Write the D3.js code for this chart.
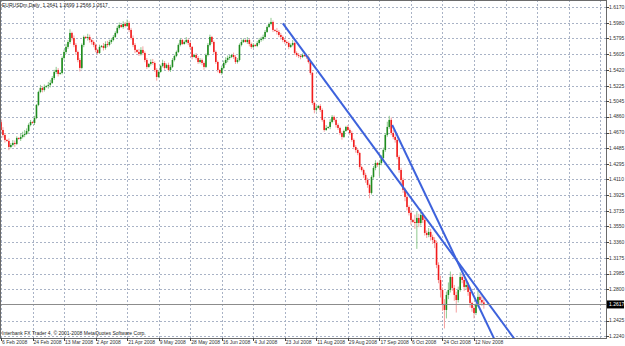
<!DOCTYPE html>
<html>
<head>
<meta charset="utf-8">
<script src="https://cdn.jsdelivr.net/npm/d3@7"></script>
<style>
body { margin: 0; background: #fff; }
svg { display: block; font-family: 'Liberation Sans', Arial, sans-serif; }
</style>
</head>
<body>
<div id="chart"></div>
<script>
'use strict';

var titleText = 'EURUSDm,Daily  1.2641 1.2699 1.2566 1.2617';
var copyrightText = 'Interbank FX Trader 4, \u00a9 2001-2008 MetaQuotes Software Corp.';

var dateLabels = ['6 Feb 2008', '24 Feb 2008', '13 Mar 2008', '2 Apr 2008', '21 Apr 2008', '9 May 2008',
    '28 May 2008', '16 Jun 2008', '4 Jul 2008', '23 Jul 2008', '11 Aug 2008', '29 Aug 2008',
    '17 Sep 2008', '6 Oct 2008', '24 Oct 2008', '12 Nov 2008'];

var priceTicks = [1.6170, 1.5980, 1.5795, 1.5605, 1.5420, 1.5225, 1.5045, 1.4860, 1.4670, 1.4485, 1.4295,
    1.4110, 1.3925, 1.3735, 1.3550, 1.3360, 1.3175, 1.2985, 1.2800, 1.2425, 1.2240];

var lastPrice = 1.2617;

var opens = [
    1.4795,1.4701,1.4641,1.4582,1.4570,1.4498,1.4522,1.4546,1.4534,1.4606,
    1.4594,1.4618,1.4641,1.4653,1.4689,1.4761,1.4797,1.4785,1.4844,1.5000,
    1.5155,1.5203,1.5179,1.5215,1.5227,1.5239,1.5263,1.5322,1.5394,1.5418,
    1.5370,1.5382,1.5561,1.5633,1.5693,1.5752,1.5860,1.5800,1.5717,1.5633,
    1.5537,1.5442,1.5717,1.5812,1.5800,1.5812,1.5776,1.5752,1.5717,1.5657,
    1.5621,1.5693,1.5705,1.5681,1.5728,1.5717,1.5752,1.5776,1.5812,1.5860,
    1.5920,1.5955,1.5931,1.5967,1.5943,1.5979,1.5896,1.5800,1.5717,1.5657,
    1.5633,1.5609,1.5657,1.5621,1.5537,1.5454,1.5490,1.5513,1.5501,1.5418,
    1.5334,1.5394,1.5466,1.5501,1.5442,1.5478,1.5418,1.5454,1.5537,1.5585,
    1.5633,1.5717,1.5776,1.5728,1.5752,1.5776,1.5740,1.5693,1.5573,1.5597,
    1.5561,1.5513,1.5537,1.5501,1.5454,1.5597,1.5717,1.5812,1.5752,1.5633,
    1.5513,1.5418,1.5382,1.5442,1.5501,1.5537,1.5561,1.5573,1.5597,1.5573,
    1.5513,1.5537,1.5717,1.5752,1.5776,1.5752,1.5776,1.5728,1.5693,1.5717,
    1.5705,1.5740,1.5776,1.5788,1.5812,1.5872,1.5931,1.5967,1.5991,1.5896,
    1.5884,1.5872,1.5836,1.5812,1.5776,1.5752,1.5740,1.5693,1.5717,1.5740,
    1.5621,1.5597,1.5585,1.5573,1.5597,1.5585,1.5573,1.5513,1.5382,1.5024,
    1.4940,1.4964,1.4988,1.4940,1.4821,1.4701,1.4725,1.4737,1.4797,1.4857,
    1.4821,1.4761,1.4725,1.4665,1.4618,1.4689,1.4737,1.4701,1.4665,1.4582,
    1.4498,1.4462,1.4426,1.4259,1.4223,1.4164,1.4104,1.4044,1.3949,1.4140,
    1.4247,1.4307,1.4283,1.4307,1.4367,1.4462,1.4641,1.4737,1.4821,1.4665,
    1.4618,1.4582,1.4379,1.4223,1.4104,1.3985,1.3901,1.3781,1.3710,1.3626,
    1.3602,1.3590,1.3650,1.3590,1.3686,1.3626,1.3471,1.3447,1.3483,1.3423,
    1.3387,1.3351,1.3089,1.2909,1.2790,1.2611,1.2551,1.2730,1.2790,1.2945,
    1.2814,1.2730,1.2670,1.2790,1.2945,1.2909,1.2826,1.2850,1.2766,1.2635,
    1.2575,1.2515,1.2611,1.2707,1.2670,1.2641];

var highs = [
    1.4830,1.4735,1.4660,1.4590,1.4600,1.4545,1.4580,1.4575,1.4625,1.4612,
    1.4660,1.4680,1.4700,1.4720,1.4780,1.4820,1.4805,1.4870,1.5010,1.5170,
    1.5240,1.5225,1.5245,1.5235,1.5275,1.5300,1.5345,1.5420,1.5455,1.5440,
    1.5395,1.5580,1.5660,1.5730,1.5775,1.5905,1.5875,1.5830,1.5740,1.5650,
    1.5560,1.5735,1.5830,1.5825,1.5850,1.5840,1.5790,1.5770,1.5735,1.5670,
    1.5720,1.5715,1.5740,1.5760,1.5765,1.5780,1.5800,1.5835,1.5880,1.5945,
    1.5985,1.5965,1.6000,1.5990,1.6020,1.6000,1.5920,1.5830,1.5740,1.5665,
    1.5670,1.5690,1.5700,1.5640,1.5560,1.5500,1.5545,1.5550,1.5520,1.5440,
    1.5415,1.5480,1.5540,1.5525,1.5495,1.5505,1.5480,1.5560,1.5600,1.5650,
    1.5735,1.5800,1.5790,1.5770,1.5810,1.5795,1.5760,1.5705,1.5610,1.5620,
    1.5585,1.5560,1.5555,1.5520,1.5615,1.5740,1.5840,1.5825,1.5770,1.5650,
    1.5530,1.5425,1.5470,1.5530,1.5570,1.5590,1.5600,1.5610,1.5625,1.5595,
    1.5560,1.5735,1.5780,1.5795,1.5785,1.5810,1.5790,1.5745,1.5740,1.5725,
    1.5765,1.5800,1.5815,1.5840,1.5895,1.5950,1.5985,1.6040,1.6010,1.5905,
    1.5920,1.5895,1.5860,1.5830,1.5795,1.5770,1.5760,1.5735,1.5775,1.5755,
    1.5640,1.5620,1.5600,1.5615,1.5605,1.5610,1.5590,1.5530,1.5395,1.5040,
    1.4990,1.5000,1.5010,1.4960,1.4840,1.4760,1.4745,1.4830,1.4880,1.4875,
    1.4840,1.4780,1.4740,1.4685,1.4705,1.4750,1.4760,1.4720,1.4690,1.4600,
    1.4520,1.4480,1.4440,1.4275,1.4240,1.4190,1.4130,1.4060,1.4160,1.4270,
    1.4340,1.4320,1.4330,1.4400,1.4490,1.4665,1.4800,1.4870,1.4850,1.4700,
    1.4650,1.4600,1.4400,1.4250,1.4130,1.4010,1.3930,1.3800,1.3740,1.3640,
    1.3690,1.3720,1.3700,1.3760,1.3720,1.3660,1.3500,1.3530,1.3520,1.3450,
    1.3420,1.3380,1.3120,1.2960,1.2820,1.2680,1.2770,1.2880,1.3010,1.2980,
    1.2850,1.2770,1.2830,1.3000,1.2990,1.2940,1.2900,1.2880,1.2800,1.2650,
    1.2600,1.2630,1.2780,1.2740,1.2720,1.2699];

var lows = [
    1.4680,1.4610,1.4550,1.4560,1.4460,1.4480,1.4505,1.4500,1.4520,1.4585,
    1.4570,1.4600,1.4615,1.4640,1.4670,1.4745,1.4775,1.4760,1.4830,1.4985,
    1.5140,1.5150,1.5160,1.5205,1.5195,1.5210,1.5250,1.5300,1.5370,1.5340,
    1.5360,1.5365,1.5540,1.5610,1.5670,1.5730,1.5770,1.5690,1.5600,1.5510,
    1.5400,1.5425,1.5690,1.5790,1.5770,1.5745,1.5720,1.5690,1.5630,1.5600,
    1.5610,1.5685,1.5650,1.5660,1.5690,1.5700,1.5730,1.5760,1.5800,1.5845,
    1.5900,1.5920,1.5910,1.5925,1.5930,1.5870,1.5780,1.5690,1.5620,1.5625,
    1.5585,1.5590,1.5595,1.5510,1.5430,1.5445,1.5470,1.5480,1.5395,1.5290,
    1.5320,1.5385,1.5450,1.5420,1.5435,1.5400,1.5395,1.5440,1.5520,1.5570,
    1.5620,1.5700,1.5715,1.5720,1.5735,1.5715,1.5670,1.5545,1.5565,1.5540,
    1.5490,1.5495,1.5475,1.5420,1.5440,1.5580,1.5700,1.5730,1.5610,1.5490,
    1.5390,1.5375,1.5360,1.5425,1.5480,1.5510,1.5540,1.5560,1.5550,1.5490,
    1.5495,1.5520,1.5700,1.5740,1.5745,1.5730,1.5700,1.5670,1.5680,1.5695,
    1.5690,1.5720,1.5755,1.5770,1.5795,1.5860,1.5920,1.5950,1.5870,1.5875,
    1.5840,1.5810,1.5780,1.5750,1.5730,1.5720,1.5665,1.5680,1.5700,1.5600,
    1.5575,1.5560,1.5545,1.5560,1.5575,1.5550,1.5495,1.5360,1.5000,1.4900,
    1.4920,1.4955,1.4915,1.4800,1.4680,1.4690,1.4715,1.4710,1.4780,1.4800,
    1.4730,1.4700,1.4640,1.4585,1.4605,1.4680,1.4690,1.4640,1.4560,1.4470,
    1.4430,1.4400,1.4230,1.4205,1.4130,1.4070,1.4010,1.3885,1.3930,1.4120,
    1.4220,1.4260,1.4150,1.4280,1.4340,1.4440,1.4620,1.4715,1.4640,1.4590,
    1.4550,1.4350,1.4190,1.4060,1.3950,1.3850,1.3740,1.3680,1.3570,1.3590,
    1.3520,1.3280,1.3540,1.3560,1.3590,1.3440,1.3410,1.3420,1.3380,1.3340,
    1.3290,1.3050,1.2870,1.2700,1.2540,1.2330,1.2450,1.2680,1.2760,1.2780,
    1.2660,1.2520,1.2640,1.2770,1.2870,1.2780,1.2790,1.2720,1.2580,1.2530,
    1.2450,1.2490,1.2590,1.2620,1.2600,1.2566];

var closes = [
    1.4701,1.4641,1.4582,1.4570,1.4498,1.4522,1.4546,1.4534,1.4606,1.4594,
    1.4618,1.4641,1.4653,1.4689,1.4761,1.4797,1.4785,1.4844,1.5000,1.5155,
    1.5203,1.5179,1.5215,1.5227,1.5239,1.5263,1.5322,1.5394,1.5418,1.5370,
    1.5382,1.5561,1.5633,1.5693,1.5752,1.5860,1.5800,1.5717,1.5633,1.5537,
    1.5442,1.5717,1.5812,1.5800,1.5812,1.5776,1.5752,1.5717,1.5657,1.5621,
    1.5693,1.5705,1.5681,1.5728,1.5717,1.5752,1.5776,1.5812,1.5860,1.5920,
    1.5955,1.5931,1.5967,1.5943,1.5979,1.5896,1.5800,1.5717,1.5657,1.5633,
    1.5609,1.5657,1.5621,1.5537,1.5454,1.5490,1.5513,1.5501,1.5418,1.5334,
    1.5394,1.5466,1.5501,1.5442,1.5478,1.5418,1.5454,1.5537,1.5585,1.5633,
    1.5717,1.5776,1.5728,1.5752,1.5776,1.5740,1.5693,1.5573,1.5597,1.5561,
    1.5513,1.5537,1.5501,1.5454,1.5597,1.5717,1.5812,1.5752,1.5633,1.5513,
    1.5418,1.5382,1.5442,1.5501,1.5537,1.5561,1.5573,1.5597,1.5573,1.5513,
    1.5537,1.5717,1.5752,1.5776,1.5752,1.5776,1.5728,1.5693,1.5717,1.5705,
    1.5740,1.5776,1.5788,1.5812,1.5872,1.5931,1.5967,1.5991,1.5896,1.5884,
    1.5872,1.5836,1.5812,1.5776,1.5752,1.5740,1.5693,1.5717,1.5740,1.5621,
    1.5597,1.5585,1.5573,1.5597,1.5585,1.5573,1.5513,1.5382,1.5024,1.4940,
    1.4964,1.4988,1.4940,1.4821,1.4701,1.4725,1.4737,1.4797,1.4857,1.4821,
    1.4761,1.4725,1.4665,1.4618,1.4689,1.4737,1.4701,1.4665,1.4582,1.4498,
    1.4462,1.4426,1.4259,1.4223,1.4164,1.4104,1.4044,1.3949,1.4140,1.4247,
    1.4307,1.4283,1.4307,1.4367,1.4462,1.4641,1.4737,1.4821,1.4665,1.4618,
    1.4582,1.4379,1.4223,1.4104,1.3985,1.3901,1.3781,1.3710,1.3626,1.3602,
    1.3590,1.3650,1.3590,1.3686,1.3626,1.3471,1.3447,1.3483,1.3423,1.3387,
    1.3351,1.3089,1.2909,1.2790,1.2611,1.2551,1.2730,1.2790,1.2945,1.2814,
    1.2730,1.2670,1.2790,1.2945,1.2909,1.2826,1.2850,1.2766,1.2635,1.2575,
    1.2515,1.2611,1.2707,1.2670,1.2641,1.2617];

// trend lines drawn on the chart: [bar, price] -> [bar, price]
var trendLineStarts = [[143, 1.5975], [198.5, 1.4761]];
var trendLineEnds   = [[262, 1.2157], [253, 1.2070]];

var chart = {};
chart.width = 625;
chart.height = 346;
chart.right = 606;   // price axis line
chart.bottom = 338;  // time axis line
chart.barsPerLabel = 16;
chart.bullBody = '#1f8c1f';
chart.bullWick = '#8fc98f';
chart.bearBody = '#f21c1c';
chart.bearWick = '#f5a0a0';
chart.gridColor = '#a9b3c6';
chart.lineColor = '#3d62dc';

chart.xScale = d3.scaleLinear()
    .domain([0, chart.barsPerLabel * (dateLabels.length - 1)])
    .range([1, 474]);
chart.yScale = d3.scaleLinear()
    .domain([priceTicks[priceTicks.length - 1], priceTicks[0]])
    .range([336, 7]);

chart.appendSvg = function (div)
{
    return d3.select(div).append('svg')
        .attr('width', chart.width)
        .attr('height', chart.height);
}

chart.drawGrid = function (svg)
{
    var x = chart.xScale, y = chart.yScale;
    var g = svg.append('g').attr('class', 'grid');
    var ys = priceTicks;
    g.selectAll('.hgrid').data(ys).enter().append('line')
        .attr('x1', 0).attr('x2', chart.right)
        .attr('y1', function(d){ return Math.round(y(d)) + 0.5; })
        .attr('y2', function(d){ return Math.round(y(d)) + 0.5; })
        .attr('stroke', chart.gridColor)
        .attr('stroke-dasharray', '2,2');
    // vertical grid keeps going past the last label
    var xs = d3.range(0, 20).map(function(k){ return k * chart.barsPerLabel; });
    g.selectAll('.vgrid').data(xs).enter().append('line')
        .attr('x1', function(d){ return Math.round(x(d)) + 0.5; })
        .attr('x2', function(d){ return Math.round(x(d)) + 0.5; })
        .attr('y1', 0).attr('y2', chart.bottom)
        .attr('stroke', chart.gridColor)
        .attr('stroke-dasharray', '2,2');
}

chart.drawCandles = function (svg)
{
    var x = chart.xScale, y = chart.yScale;
    var bars = closes.map(function(c, i){
        return {i: i, o: opens[i], h: highs[i], l: lows[i], c: c};
    });
    var g = svg.append('g').attr('clip-path', 'url(#plotClip)');
    g.selectAll('.wick').data(bars).enter().append('line')
        .attr('x1', function(d){ return x(d.i); })
        .attr('x2', function(d){ return x(d.i); })
        .attr('y1', function(d){ return y(d.h); })
        .attr('y2', function(d){ return y(d.l); })
        .attr('stroke', function(d){ return d.c >= d.o ? chart.bullWick : chart.bearWick; })
        .attr('stroke-width', 1);
    g.selectAll('.body').data(bars).enter().append('rect')
        .attr('x', function(d){ return x(d.i) - 0.8; })
        .attr('width', 1.6)
        .attr('y', function(d){ return y(Math.max(d.o, d.c)); })
        .attr('height', function(d){ return Math.max(1, Math.abs(y(d.o) - y(d.c))); })
        .attr('fill', function(d){ return d.c >= d.o ? chart.bullBody : chart.bearBody; });
}

chart.drawTrendLines = function (svg)
{
    var x = chart.xScale, y = chart.yScale;
    var g = svg.append('g').attr('clip-path', 'url(#plotClip)');
    g.selectAll('.trend').data(trendLineStarts).enter().append('line')
        .attr('x1', function(d){ return x(d[0]); })
        .attr('y1', function(d){ return y(d[1]); })
        .attr('x2', function(d, i){ return x(trendLineEnds[i][0]); })
        .attr('y2', function(d, i){ return y(trendLineEnds[i][1]); })
        .attr('stroke', chart.lineColor)
        .attr('stroke-width', 2);
}

chart.drawAxes = function (svg)
{
    var x = chart.xScale, y = chart.yScale;
    // current bid line
    svg.append('line')
        .attr('x1', 0).attr('x2', chart.right)
        .attr('y1', Math.round(y(lastPrice)) + 0.5).attr('y2', Math.round(y(lastPrice)) + 0.5)
        .attr('stroke', '#8c8c8c');

    // frame
    svg.append('rect')
        .attr('x', 0.5).attr('y', 0.5)
        .attr('width', chart.right)
        .attr('height', chart.bottom)
        .attr('fill', 'none')
        .attr('stroke', '#6b6b6b');

    var yg = svg.append('g').attr('class', 'yAxis');
    yg.selectAll('line').data(priceTicks).enter().append('line')
        .attr('x1', chart.right).attr('x2', chart.right + 3)
        .attr('y1', function(d){ return Math.round(y(d)) + 0.5; })
        .attr('y2', function(d){ return Math.round(y(d)) + 0.5; })
        .attr('stroke', '#444');
    yg.selectAll('text').data(priceTicks).enter().append('text')
        .attr('x', chart.right + 3)
        .attr('y', function(d){ return y(d) + 1.8; })
        .attr('font-size', '5px')
        .attr('fill', '#333')
        .text(function(d){ return d.toFixed(4); });

    svg.append('rect')
        .attr('x', chart.right + 1).attr('y', y(lastPrice) - 4)
        .attr('width', 17).attr('height', 8)
        .attr('fill', '#000');
    svg.append('text')
        .attr('x', chart.right + 3).attr('y', y(lastPrice) + 1.8)
        .attr('font-size', '5px')
        .attr('fill', '#fff')
        .text(lastPrice.toFixed(4));

    var xg = svg.append('g').attr('class', 'xAxis');
    xg.selectAll('line').data(dateLabels).enter().append('line')
        .attr('x1', function(d, k){ return Math.round(x(k * chart.barsPerLabel)) + 0.5; })
        .attr('x2', function(d, k){ return Math.round(x(k * chart.barsPerLabel)) + 0.5; })
        .attr('y1', chart.bottom).attr('y2', chart.bottom + 3)
        .attr('stroke', '#444');
    xg.selectAll('text').data(dateLabels).enter().append('text')
        .attr('x', function(d, k){ return x(k * chart.barsPerLabel) + 1; })
        .attr('y', chart.bottom + 6)
        .attr('font-size', '5px')
        .attr('fill', '#333')
        .text(function(d){ return d; });
}

chart.drawTexts = function (svg)
{
    svg.append('text')
        .attr('x', 2).attr('y', 6.5)
        .attr('font-size', '5px')
        .attr('fill', '#222')
        .attr('xml:space', 'preserve')
        .text(titleText);
    svg.append('text')
        .attr('x', 2).attr('y', chart.bottom - 3)
        .attr('font-size', '5px')
        .attr('fill', '#222')
        .text(copyrightText);
}

function candleChart(div)
{
    var svg = chart.appendSvg(div);
    svg.append('rect').attr('width', chart.width).attr('height', chart.height).attr('fill', '#fff');
    svg.append('clipPath').attr('id', 'plotClip')
        .append('rect')
        .attr('x', 0).attr('y', 0)
        .attr('width', chart.right).attr('height', chart.bottom);
    chart.drawGrid(svg);
    chart.drawCandles(svg);
    chart.drawTrendLines(svg);
    chart.drawAxes(svg);
    chart.drawTexts(svg);
}

candleChart('#chart');
</script>
</body>
</html>
